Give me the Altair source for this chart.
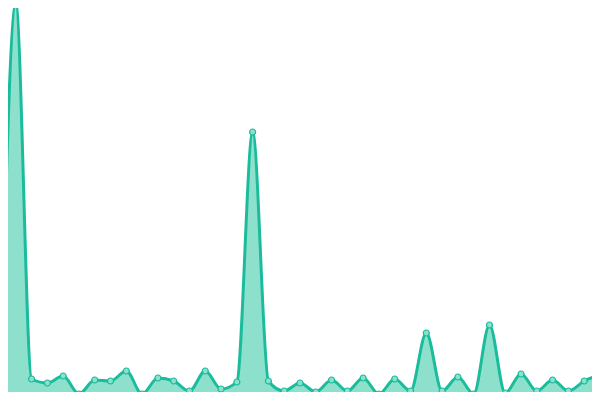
import altair as alt
import pandas as pd

idx = list(range(39))
values = [1, 396, 21, 17, 24, 6, 20, 19, 29, 6, 22, 19, 9, 29, 11, 18, 268, 19, 9, 17,
          8, 20, 9, 22, 6, 21, 9, 67, 9, 23, 6, 75, 7, 26, 9, 20, 9, 19, 25]

df = pd.DataFrame({"i": idx, "v": values})

line_color = "#1abc9c"
fill_color = "#8de0cc"

x = alt.X("i:Q", axis=None, scale=alt.Scale(domain=[0, 38], nice=False, zero=False))
y = alt.Y("v:Q", axis=None, scale=alt.Scale(domain=[0, 400], nice=False))

base = alt.Chart(df).encode(x=x, y=y)

area = base.mark_area(interpolate="monotone", color=fill_color, opacity=1,
                      line={"color": line_color, "strokeWidth": 3})
points = base.mark_point(filled=True, size=36, fill=fill_color, stroke=line_color,
                         strokeWidth=1.2, opacity=1)

chart = (area + points).properties(
    width=600, height=400,
    autosize=alt.AutoSizeParams(type="none"),
    padding={"left": -8, "top": -8, "right": -8, "bottom": -8}
).configure_view(stroke=None)

chart.save("out.html", embed_options={"renderer": "svg", "actions": False})
